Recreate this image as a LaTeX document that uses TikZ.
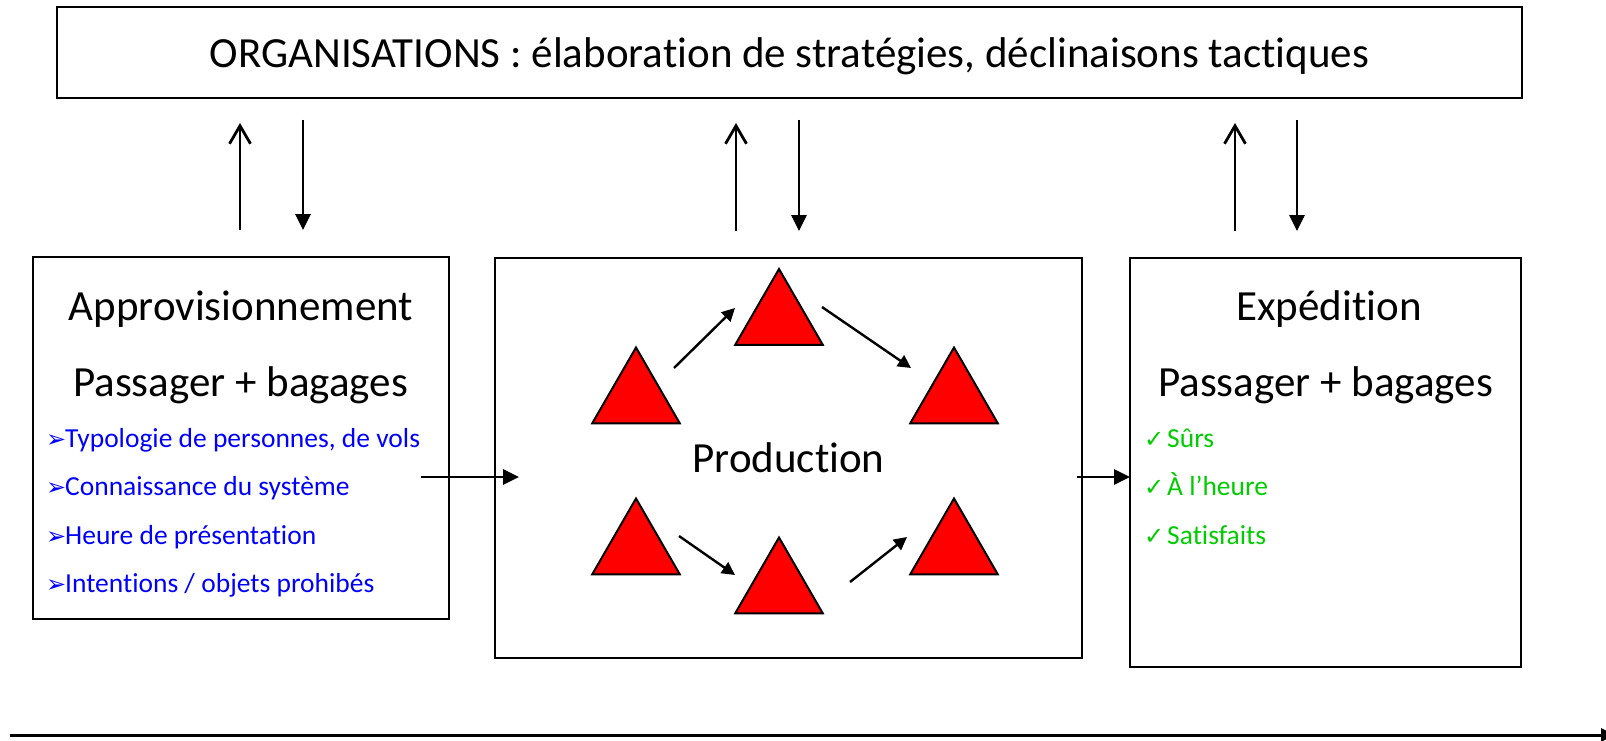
\documentclass[tikz,border=0pt]{standalone}
\usepackage{fontspec}
\setmainfont{Carlito}[Ligatures=NoCommon]
\newfontfamily\symbfont{DejaVu Sans}
\usetikzlibrary{shapes.geometric, arrows.meta}
\definecolor{itemblue}{RGB}{0,0,255}
\definecolor{itemgreen}{RGB}{0,204,0}
\tikzstyle{box} = [rectangle, draw=black, line width=2.6pt, inner sep=0pt, outer sep=0pt]
\tikzstyle{stage} = [regular polygon, regular polygon sides=3, minimum size=101pt, inner sep=0pt, outer sep=0pt, draw=black, fill=red, line width=2pt]
\tikzstyle{title} = [anchor=base, font=\fontsize{43}{50}\selectfont]
\tikzstyle{blueitem} = [anchor=base west, inner sep=0pt, text=itemblue, font=\fontsize{27.5}{32}\selectfont]
\tikzstyle{greenitem} = [anchor=base west, inner sep=0pt, text=itemgreen, font=\fontsize{27.5}{32}\selectfont]
\tikzstyle{line} = [draw, line width=2.8pt, -{Triangle[length=16pt, width=15pt]}]
\tikzstyle{upline} = [draw, line width=2.8pt, -{Straight Barb[length=18pt, width=21pt]}]
\tikzstyle{loopline} = [draw, line width=2.4pt, -{Triangle[length=13pt, width=13pt]}]
\tikzstyle{timeline} = [draw, line width=3pt, -{Triangle[length=14pt, width=13pt]}]
\newcommand\itemarrow{\makebox[19pt][l]{\symbfont\fontsize{24}{24}\selectfont ➢}}
\newcommand\itemcheck{\makebox[23pt][l]{\symbfont\fontsize{24}{24}\selectfont ✓}}

\begin{document}
\begin{tikzpicture}[x=1pt, y=-1pt]
            \useasboundingbox (0,0) rectangle (1606,741);
            % Draw nodes
            % Top line
            \node (org) [box, minimum width=1465pt, minimum height=91pt] at (789.5,52.5) {};
            \node (orgtext) [title] at (789.5,68) {ORGANISATIONS : élaboration de stratégies, déclinaisons tactiques};

            % Left box
            \node (appro) [box, minimum width=416pt, minimum height=362pt] at (241,438) {};
            \node (approtitle) [title] at (241,320) {Approvisionnement};
            \node (approsub) [title] at (240.5,396) {Passager + bagages};
            \node (in1) [blueitem] at (46,447) {\itemarrow Typologie de personnes, de vols};
            \node (in2) [blueitem] at (46,495.5) {\itemarrow Connaissance du système};
            \node (in3) [blueitem] at (46,544) {\itemarrow Heure de présentation};
            \node (in4) [blueitem] at (46,592.5) {\itemarrow Intentions / objets prohibés};

            % Middle box
            \node (prod) [box, minimum width=587pt, minimum height=400pt] at (788.5,458) {};
            \node (prodtitle) [title] at (788.5,472) {Production};
            \node (t1) [stage] at (636,398) {};
            \node (t2) [stage] at (779,319.5) {};
            \node (t3) [stage] at (954,398) {};
            \node (t4) [stage] at (636,549) {};
            \node (t5) [stage] at (779,588) {};
            \node (t6) [stage] at (954,549) {};

            % Right box
            \node (expe) [box, minimum width=391pt, minimum height=409pt] at (1325.5,462.5) {};
            \node (expetitle) [title] at (1329,320) {Expédition};
            \node (expesub) [title] at (1325.5,396) {Passager + bagages};
            \node (out1) [greenitem] at (1144,447) {\itemcheck Sûrs};
            \node (out2) [greenitem] at (1144,495.5) {\itemcheck À l’heure};
            \node (out3) [greenitem] at (1144,544) {\itemcheck Satisfaits};

            % Time axis
            \coordinate (tstart) at (10,735);
            \coordinate (tend) at (1615,735);

            % Draw lines
            % Up and down with the organisations
            \path [upline, shorten <=27pt, shorten >=25pt] ([xshift=-1pt]appro.north) -- ([xshift=-1pt]appro.north |- org.south);
            \path [line, shorten <=22pt, shorten >=27pt] ([xshift=62pt]appro.north |- org.south) -- ([xshift=62pt]appro.north);
            \path [upline, shorten <=27pt, shorten >=25pt] ([xshift=-52.5pt]prod.north) -- ([xshift=-52.5pt]prod.north |- org.south);
            \path [line, shorten <=22pt, shorten >=27pt] ([xshift=10.5pt]prod.north |- org.south) -- ([xshift=10.5pt]prod.north);
            \path [upline, shorten <=27pt, shorten >=25pt] ([xshift=-90.5pt]expe.north) -- ([xshift=-90.5pt]expe.north |- org.south);
            \path [line, shorten <=22pt, shorten >=27pt] ([xshift=-28.5pt]expe.north |- org.south) -- ([xshift=-28.5pt]expe.north);

            % Main flow
            \path [line] ([xshift=-28pt, yshift=-39pt]appro.east) -- ([xshift=24pt, yshift=-19pt]prod.west);
            \path [line] ([xshift=-5pt, yshift=-19pt]prod.east) -- ([yshift=-14.5pt]expe.west);

            % Inside production
            \path [loopline] ([xshift=38pt, yshift=30pt]t1.center) -- ([xshift=-44pt, yshift=11.5pt]t2.center);
            \path [loopline] ([xshift=43pt, yshift=12.5pt]t2.center) -- ([xshift=-43pt, yshift=30pt]t3.center);
            \path [loopline] ([xshift=43pt, yshift=13pt]t4.center) -- ([xshift=-44pt, yshift=13pt]t5.center);
            \path [loopline] ([xshift=71pt, yshift=6pt]t5.center) -- ([xshift=-47pt, yshift=12pt]t6.center);

            % Time
            \path [timeline] (tstart) -- (tend);
\end{tikzpicture}
\end{document}
